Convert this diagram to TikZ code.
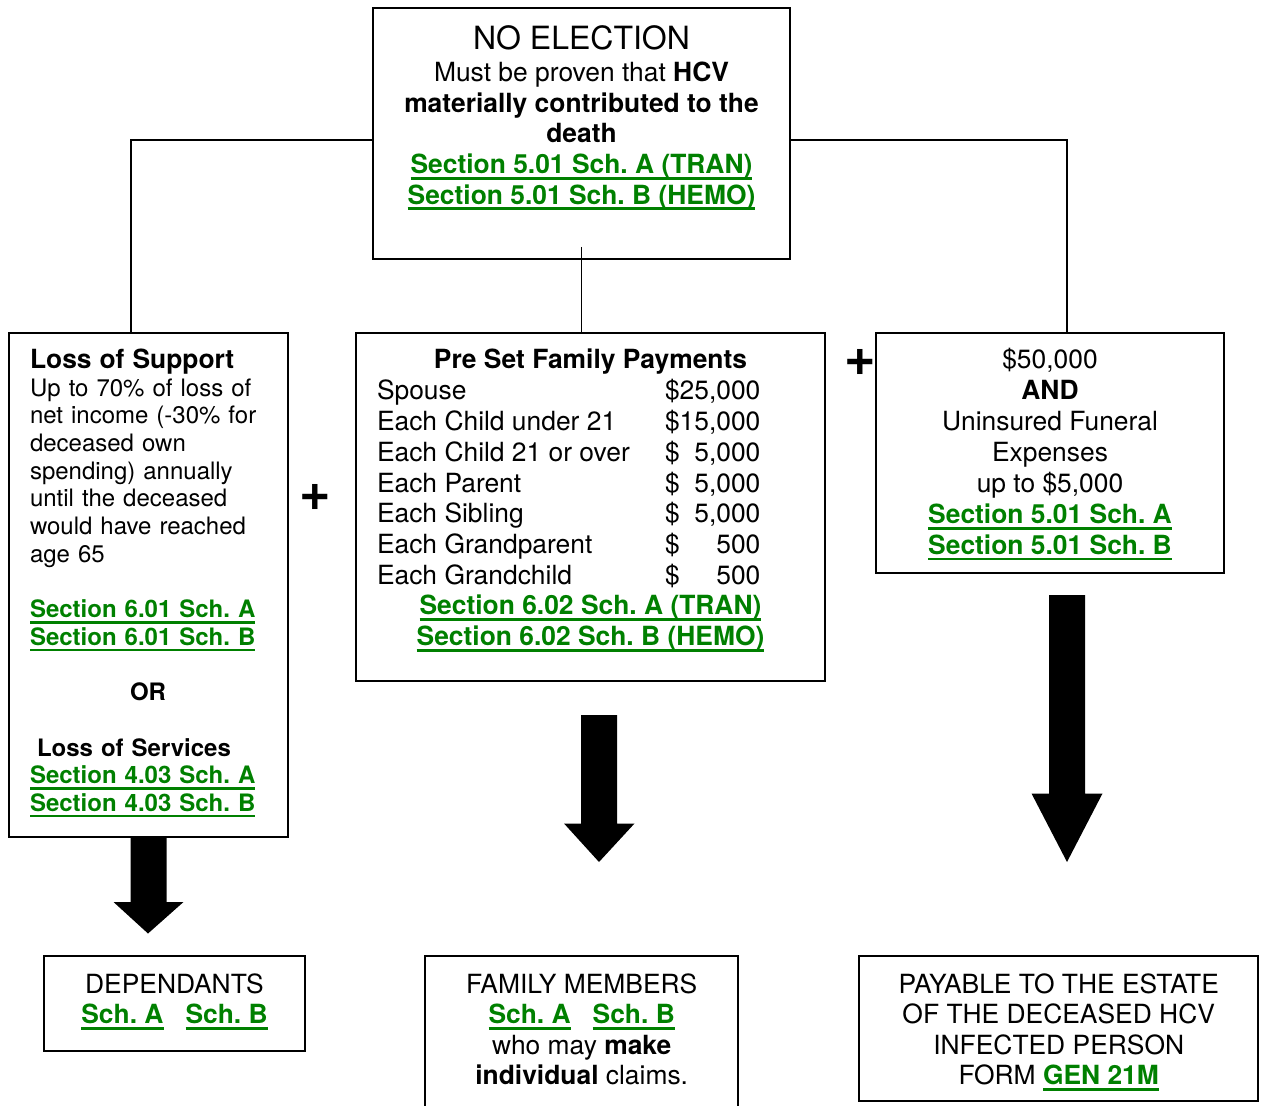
\documentclass[tikz,border=0pt]{standalone}
\usepackage{fontspec}
\setmainfont{TeX Gyre Heros}
\usetikzlibrary{calc}
\definecolor{lgreen}{RGB}{0,128,0}
\frenchspacing
\newcommand\lnkx[1]{\leavevmode{\bfseries\color{lgreen}\setbox0=\hbox{#1}\rlap{\rule[-0.24em]{\wd0}{0.11em}}\box0}}
\newcommand\fmain{\fontsize{13.2}{15.4}\selectfont}
\newcommand\fbot{\fontsize{13.2}{15.25}\selectfont}
\begin{document}
\begin{tikzpicture}[x=0.5pt,y=-0.5pt,
  box/.style={draw, line width=1pt, inner sep=0, outer sep=0, anchor=north west},
  conn/.style={line width=0.8pt},
  txt/.style={inner sep=0, outer sep=0},
  bigarrow/.style={fill=black, draw=none},
  plus/.style={inner sep=0, outer sep=0, font=\fontsize{27}{27}\selectfont\bfseries}]
\useasboundingbox (0,0) rectangle (1262,1106);

% boxes
\node[box, minimum width=208.5pt, minimum height=125.5pt] (top) at (373,8) {};
\node[box, minimum width=139.5pt, minimum height=252pt] (lbox) at (9,333) {};
\node[box, minimum width=234.5pt, minimum height=174pt] (mbox) at (356,333) {};
\node[box, minimum width=174pt, minimum height=120pt] (rbox) at (876,333) {};
\node[box, minimum width=130.5pt, minimum height=47.5pt] (dbox) at (44,956) {};
\node[inner sep=0, outer sep=0, anchor=north west, minimum width=156.5pt, minimum height=76pt] (fbox) at (425,956) {};
\draw[line width=1pt] (fbox.south west) -- (fbox.north west) -- (fbox.north east) -- (fbox.south east);
\node[box, minimum width=199.5pt, minimum height=72.5pt] (pbox) at (859,956) {};

% connectors
\coordinate (ly) at (0,140);
\coordinate (lx) at (131,0);
\coordinate (rx) at (1067,0);
\draw[conn] (top.west |- ly) -| (lbox.north -| lx);
\draw[conn] (top.east |- ly) -| (rbox.north -| rx);
\draw[conn] ($(top.south)+(0,-12)$) -- (top.south |- mbox.north);

\begin{scope}[yshift=-0.8pt]
% top text
\node[txt, anchor=base, font=\fontsize{16}{18}\selectfont] (noel) at (581.5,47.5) {NO ELECTION};
\node[txt, anchor=north, align=center, font=\fontsize{13.2}{15.3}\selectfont] (toptext) at (581.5,58.6)
  {\strut Must be proven that \textbf{HCV}\\ \textbf{materially contributed to the}\\ \textbf{death}\\
   \lnkx{Section 5.01 Sch. A (TRAN)}\\ \lnkx{Section 5.01 Sch. B (HEMO)}};

% left text
\node[txt, anchor=north west, text width=118pt, align=left, font=\fontsize{12}{13.85}\selectfont] (ltext) at (30,347.3) {%
{\fontsize{13.2}{13.85}\selectfont\textbf{Loss of Support}}\strut\\
Up to 70\% of loss of\\ net income (-30\% for\\ deceased own\\ spending) annually\\ until the deceased\\ would have reached\\ age 65\\[13.85pt]
\lnkx{Section 6.01 Sch. A}\\ \lnkx{Section 6.01 Sch. B}\\[13.85pt]
\makebox[\linewidth]{\textbf{OR}}\\[13.85pt]
\hspace*{3.5pt}\textbf{Loss of Services}\\ \lnkx{Section 4.03 Sch. A}\\ \lnkx{Section 4.03 Sch. B}};

% middle text
\node[txt, anchor=base, font=\fmain\bfseries] (mtitle) at (590.5,367) {Pre Set Family Payments};
\node[txt, anchor=north west, font=\fmain] (mtable) at (377,376.5) {%
\begin{tabular}{@{}p{144pt}@{}l@{}r@{}}
Spouse & \$ & 25,000\\
Each Child under 21 & \$ & 15,000\\
Each Child 21 or over & \$ & 5,000\\
Each Parent & \$ & 5,000\\
Each Sibling & \$ & 5,000\\
Each Grandparent & \$ & 500\\
Each Grandchild & \$ & 500
\end{tabular}};
\node[txt, anchor=north, align=center, font=\fmain] (mlinks) at (590.5,591.5)
  {\strut\lnkx{Section 6.02 Sch. A (TRAN)}\\ \lnkx{Section 6.02 Sch. B (HEMO)}};

% right text
\node[txt, anchor=north, align=center, font=\fontsize{13.2}{15.45}\selectfont] (rtext) at (1050,345.5)
  {\strut\$50,000\\ \textbf{AND}\\ Uninsured Funeral\\ Expenses\\ up to \$5,000\\ \lnkx{Section 5.01 Sch. A}\\ \lnkx{Section 5.01 Sch. B}};

% bottom text
\node[txt, anchor=north, align=center, font=\fbot] (dtext) at (174.5,970.5)
  {\strut DEPENDANTS\\ \lnkx{Sch. A}\hspace{11pt}\lnkx{Sch. B}};
\node[txt, anchor=north, align=center, font=\fbot] (ftext) at (581.7,970.5)
  {\strut FAMILY MEMBERS\\ \lnkx{Sch. A}\hspace{11pt}\lnkx{Sch. B}\\ who may \textbf{make}\\ \textbf{individual} claims.};
\node[txt, anchor=north, align=center, font=\fbot] (ptext) at (1058.7,970.5)
  {\strut PAYABLE TO THE ESTATE\\ OF THE DECEASED HCV\\ INFECTED PERSON\\ FORM \lnkx{GEN 21M}};
\end{scope}

% plus signs
\node[plus] (plusl) at (315,497) {+};
\node[plus] (plusr) at (860,362) {+};

% big arrows
\draw[bigarrow] (130.5,836) -- (166.5,836) -- (166.5,902) -- (183.5,902) -- (148,933.5) -- (113.5,902) -- (130.5,902) -- cycle;
\draw[bigarrow] (581,715) -- (617,715) -- (617,823.5) -- (634.5,823.5) -- (599,862) -- (564,823.5) -- (581,823.5) -- cycle;
\draw[bigarrow] (1049,595) -- (1085,595) -- (1085,793.5) -- (1102.5,793.5) -- (1067,862) -- (1031.5,793.5) -- (1049,793.5) -- cycle;
\end{tikzpicture}
\end{document}
